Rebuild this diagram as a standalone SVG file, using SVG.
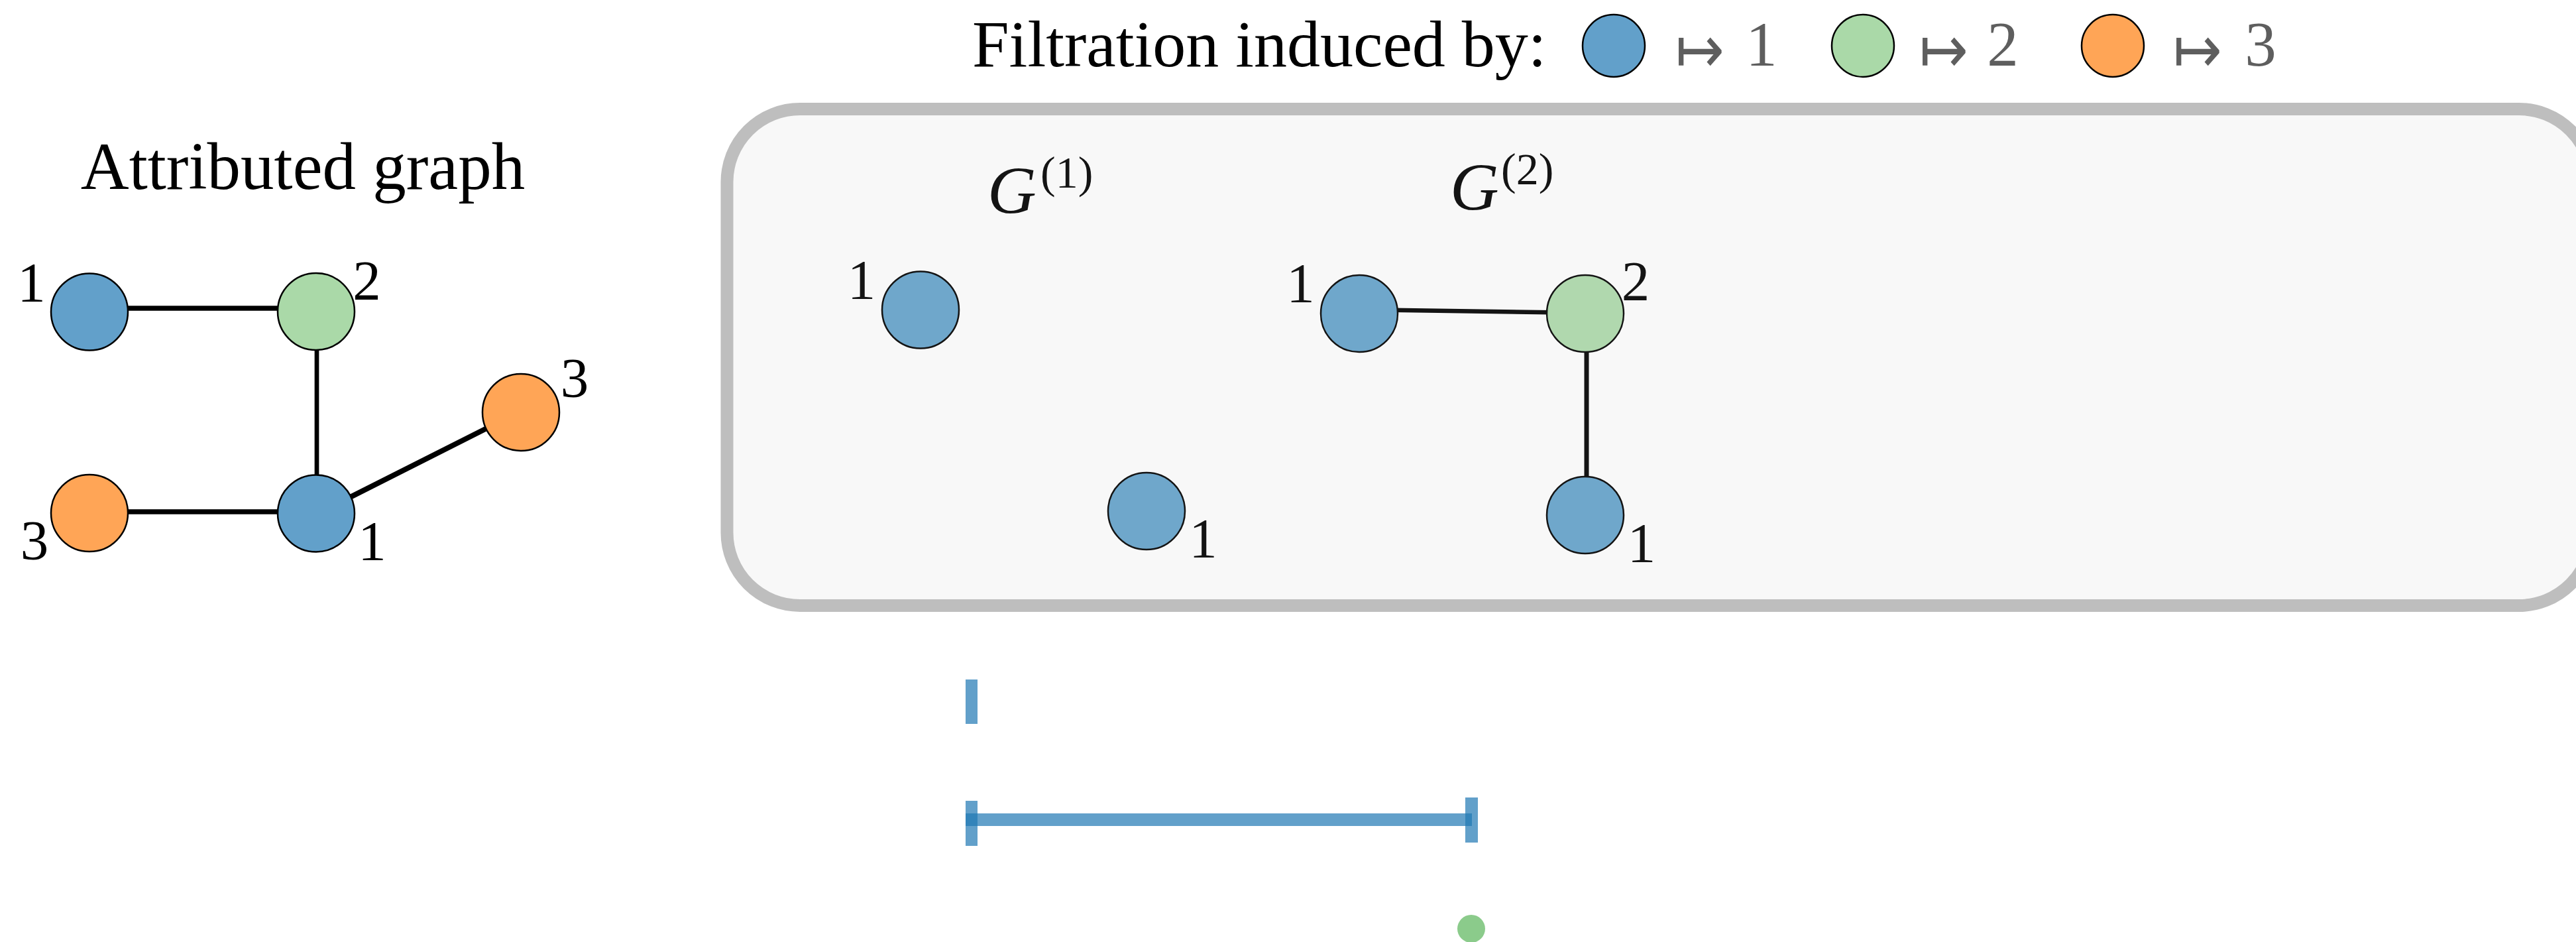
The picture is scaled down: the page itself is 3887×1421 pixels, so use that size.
<svg xmlns="http://www.w3.org/2000/svg" width="3887" height="1421" viewBox="0 0 3887 1421">
<style>
.t{font-family:"Liberation Serif","Times New Roman",serif;fill:#000}
.lab{font-family:"Liberation Serif","Times New Roman",serif;font-size:85px;text-anchor:middle;fill:#000}
.blab{font-family:"Liberation Serif","Times New Roman",serif;font-size:85px;text-anchor:middle;fill:#141414}
.gi{font-family:"Liberation Serif","Times New Roman",serif;font-style:italic;font-size:102px;fill:#141414}
.gs{font-family:"Liberation Serif","Times New Roman",serif;font-size:68px;fill:#141414}
.map{font-family:"DejaVu Sans",sans-serif;font-size:100px;fill:#5e5e5e}
.leg{font-family:"Liberation Serif","Times New Roman",serif;font-size:95px;text-anchor:middle;fill:#5e5e5e}
.n{stroke:#000;stroke-width:2.5}
.bn{stroke:#141414;stroke-width:2.5}
.blue{fill:#62a0ca}.green{fill:#aad9a8}.orange{fill:#ffa556}
.bblue{fill:#6fa7cb}.bgreen{fill:#b0d8ae}
.e{stroke:#000;stroke-width:7.5;fill:none}
.be{stroke:#141414;stroke-width:6.5;fill:none}
.bar{fill:#1f77b4;fill-opacity:0.7}
</style>
<rect width="3887" height="1421" fill="#fff"/>

<!-- Legend -->
<g id="legend">
<text class="t" x="1467" y="100" font-size="100">Filtration induced by:</text>
<circle class="n blue" cx="2435" cy="69" r="47"/>
<text class="map" x="2528" y="109" textLength="74" lengthAdjust="spacingAndGlyphs">↦</text>
<text class="leg" x="2658" y="99">1</text>
<circle class="n green" cx="2811" cy="69" r="47"/>
<text class="map" x="2896" y="109" textLength="74" lengthAdjust="spacingAndGlyphs">↦</text>
<text class="leg" x="3022" y="99">2</text>
<circle class="n orange" cx="3188" cy="69" r="47"/>
<text class="map" x="3279" y="109" textLength="74" lengthAdjust="spacingAndGlyphs">↦</text>
<text class="leg" x="3411" y="99">3</text>
</g>

<!-- Attributed graph -->
<text class="t" x="457" y="285" font-size="101" text-anchor="middle">Attributed graph</text>

<!-- Filtration box -->
<rect id="filtration-box" x="1097" y="164.5" width="2814" height="749" rx="110" ry="110" fill="#f8f8f8" stroke="#bebebe" stroke-width="19"/>
<text class="gi" x="1490" y="322">G</text>
<text class="gs" x="1570" y="283">(1)</text>
<text class="gi" x="2188" y="317">G</text>
<text class="gs" x="2265" y="278">(2)</text>

<g id="connectors">
<line class="e" x1="135" y1="465" x2="477" y2="465"/>
<line class="e" x1="135" y1="772" x2="477" y2="772"/>
<line class="e" x1="478" y1="470" x2="478" y2="774" style="stroke-width:6.7"/>
<line class="e" x1="477" y1="776" x2="786" y2="620" style="stroke-width:8"/>
<line class="be" x1="2051" y1="467" x2="2392" y2="472"/>
<line class="be" x1="2394" y1="473" x2="2394" y2="777" style="stroke-width:7"/>
</g>

<g id="a-n1"><circle class="n blue" cx="135" cy="470.5" r="58"/><text class="lab" x="47.5" y="455">1</text></g>
<g id="a-n2"><circle class="n green" cx="477" cy="470" r="58"/><text class="lab" x="553.5" y="452">2</text></g>
<g id="a-n3"><circle class="n orange" cx="786" cy="622" r="58"/><text class="lab" x="867" y="599">3</text></g>
<g id="a-n4"><circle class="n orange" cx="135" cy="774" r="58"/><text class="lab" x="52" y="844">3</text></g>
<g id="a-n5"><circle class="n blue" cx="477" cy="774.5" r="58"/><text class="lab" x="561.5" y="845">1</text></g>

<g id="g1-n1"><circle class="bn bblue" cx="1389" cy="467.5" r="58"/><text class="blab" x="1300" y="451">1</text></g>
<g id="g1-n2"><circle class="bn bblue" cx="1730" cy="771" r="58"/><text class="blab" x="1815.5" y="841">1</text></g>
<g id="g2-n1"><circle class="bn bblue" cx="2051" cy="473" r="58"/><text class="blab" x="1962.5" y="456">1</text></g>
<g id="g2-n2"><circle class="bn bgreen" cx="2392" cy="473" r="58"/><text class="blab" x="2468" y="453">2</text></g>
<g id="g2-n3"><circle class="bn bblue" cx="2392" cy="777" r="58"/><text class="blab" x="2477" y="848">1</text></g>

<!-- Barcode -->
<g id="barcode">
<rect class="bar" x="1457" y="1025" width="18" height="67"/>
<rect class="bar" x="1457" y="1227" width="764" height="19"/>
<rect class="bar" x="1457" y="1208" width="18" height="68"/>
<rect class="bar" x="2211" y="1203" width="19" height="68"/>
<circle cx="2220" cy="1401" r="21" fill="#2ca02c" fill-opacity="0.55"/>
</g>
</svg>
